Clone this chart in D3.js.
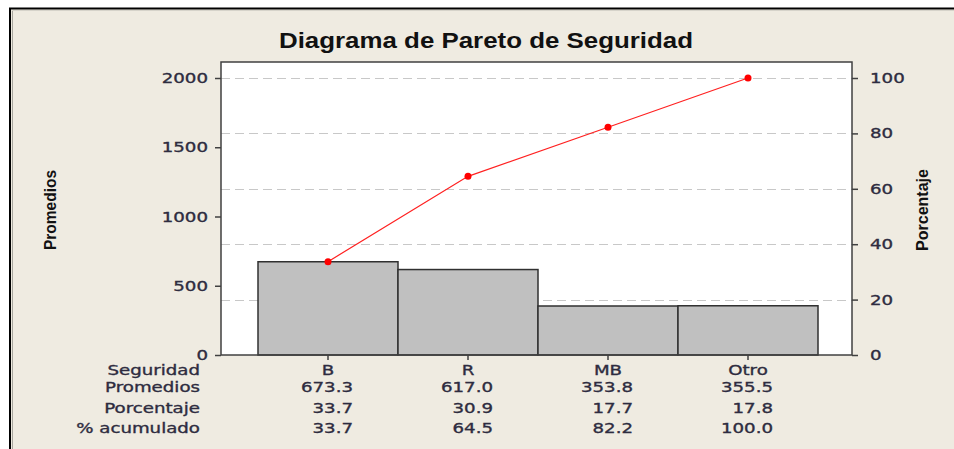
<!DOCTYPE html>
<html>
<head>
<meta charset="utf-8">
<script src="https://cdn.jsdelivr.net/npm/d3@7"></script>
<style>
  html, body { margin: 0; background: #efebe1; overflow: hidden; width: 954px; height: 449px; }
  svg { display: block; }
</style>
</head>
<body>
<div id="chart"></div>
<script>
const categories = ["B", "R", "MB", "Otro"];
const promedios = [673.3, 617.0, 353.8, 355.5];
const porcentaje = [33.7, 30.9, 17.7, 17.8];
const acumulado = [33.7, 64.5, 82.2, 100.0];
const leftTicks = [0, 500, 1000, 1500, 2000];
const rightTicks = [0, 20, 40, 60, 80, 100];
const rowNames = ["Seguridad", "Promedios", "Porcentaje", "% acumulado"];

const W = 954, H = 449;
const plot = {left: 221, right: 852, top: 62, bottom: 355};
const tableFont = "'DejaVu Sans', Verdana, sans-serif";
const textColor = "#2e2c40";
const stretch = 1.3; // the reference text is wider than it is tall

const svg = d3.select("#chart").append("svg")
    .attr("width", W)
    .attr("height", H);

// frame: white margin on top/left, black edge, beige panel
svg.append("rect").attr("width", W).attr("height", H).attr("fill", "#fff");
svg.append("rect").attr("x", 10).attr("y", 8).attr("width", W - 10).attr("height", H - 8)
    .attr("fill", "#efebe1");
svg.append("line").attr("x1", 9).attr("x2", W).attr("y1", 8.5).attr("y2", 8.5)
    .attr("stroke", "#000").attr("stroke-width", 2);
svg.append("line").attr("x1", 10).attr("x2", 10).attr("y1", 8).attr("y2", H)
    .attr("stroke", "#000").attr("stroke-width", 2);
svg.append("line").attr("x1", 12.5).attr("x2", 12.5).attr("y1", 10).attr("y2", H)
    .attr("stroke", "#a8a69e").attr("stroke-width", 1);
svg.append("line").attr("x1", 12).attr("x2", W).attr("y1", 10.5).attr("y2", 10.5)
    .attr("stroke", "#d6d3ca").attr("stroke-width", 1);

const x = d3.scaleBand()
    .domain(categories)
    .range([plot.left + 37, plot.right - 34])
    .padding(0);

const yMax = 2000 * (plot.bottom - plot.top) / 277;
const yLeft = d3.scaleLinear().domain([0, yMax]).range([plot.bottom, plot.top]);
const yRight = d3.scaleLinear().domain([0, yMax / 20]).range([plot.bottom, plot.top]);

// plot background
svg.append("rect")
    .attr("x", plot.left).attr("y", plot.top)
    .attr("width", plot.right - plot.left).attr("height", plot.bottom - plot.top)
    .attr("fill", "#fff");

// gridlines from the right axis
svg.append("g").selectAll("line")
    .data(rightTicks.filter(d => d > 0))
    .enter().append("line")
    .attr("x1", plot.left).attr("x2", plot.right)
    .attr("y1", d => Math.round(yRight(d)) + 0.5).attr("y2", d => Math.round(yRight(d)) + 0.5)
    .attr("stroke", "#c8c8c8").attr("stroke-width", 1)
    .attr("stroke-dasharray", "9,5");

// bars
svg.append("g").selectAll("rect")
    .data(promedios)
    .enter().append("rect")
    .attr("x", (d, i) => x(categories[i]))
    .attr("y", d => yLeft(d))
    .attr("width", x.bandwidth())
    .attr("height", d => plot.bottom - yLeft(d))
    .attr("fill", "#c0c0c0")
    .attr("stroke", "#303030")
    .attr("stroke-width", 1.5);

// cumulative line
const cx = (d, i) => x(categories[i]) + x.bandwidth() / 2;
svg.append("path")
    .datum(acumulado)
    .attr("d", d3.line().x(cx).y(d => yRight(d)))
    .attr("fill", "none")
    .attr("stroke", "#ff2020")
    .attr("stroke-width", 1.2);
svg.append("g").selectAll("circle")
    .data(acumulado)
    .enter().append("circle")
    .attr("cx", cx).attr("cy", d => yRight(d))
    .attr("r", 3.5).attr("fill", "#ff0000");

// plot border
svg.append("rect")
    .attr("x", plot.left).attr("y", plot.top)
    .attr("width", plot.right - plot.left).attr("height", plot.bottom - plot.top)
    .attr("fill", "none").attr("stroke", "#404040").attr("stroke-width", 1.5);

// stretched label helper: anchor is "start" | "middle" | "end"
function label(g, x0, y0, txt, anchor) {
  g.append("text")
    .attr("transform", `translate(${x0},${y0}) scale(${stretch},1)`)
    .attr("text-anchor", anchor)
    .attr("font-family", tableFont)
    .attr("font-size", "14px")
    .attr("fill", textColor)
    .attr("stroke", textColor)
    .attr("stroke-width", 0.35)
    .text(txt);
}

// axes (ticks from d3, labels stretched by hand)
const leftAxis = svg.append("g")
    .attr("transform", `translate(${plot.left},0)`)
    .call(d3.axisLeft(yLeft).tickValues(leftTicks).tickSize(6).tickFormat(""));
const rightAxis = svg.append("g")
    .attr("transform", `translate(${plot.right},0)`)
    .call(d3.axisRight(yRight).tickValues(rightTicks).tickSize(6).tickFormat(""));
const bottomAxis = svg.append("g")
    .attr("transform", `translate(0,${plot.bottom})`)
    .call(d3.axisBottom(x).tickSize(5).tickFormat(""));

[leftAxis, rightAxis, bottomAxis].forEach(a => {
  a.select(".domain").remove();
  a.selectAll(".tick line").attr("stroke", "#404040").attr("stroke-width", 1.5);
});

const tickLabels = svg.append("g");
leftTicks.forEach(t => label(tickLabels, plot.left - 13, yLeft(t) + 5, d3.format("d")(t), "end"));
rightTicks.forEach(t => label(tickLabels, plot.right + 18, yRight(t) + 5, d3.format("d")(t), "start"));

// title and axis titles
svg.append("text")
    .attr("x", 486).attr("y", 48)
    .attr("text-anchor", "middle")
    .attr("font-family", "'Liberation Sans', Arial, sans-serif")
    .attr("font-weight", "bold")
    .attr("font-size", "22px")
    .attr("textLength", 414)
    .attr("lengthAdjust", "spacingAndGlyphs")
    .attr("fill", "#111")
    .text("Diagrama de Pareto de Seguridad");

svg.append("text")
    .attr("transform", "translate(56,210) rotate(-90)")
    .attr("text-anchor", "middle")
    .attr("font-family", "'Liberation Sans', Arial, sans-serif")
    .attr("font-weight", "bold")
    .attr("font-size", "17px")
    .attr("textLength", 80)
    .attr("lengthAdjust", "spacingAndGlyphs")
    .attr("fill", "#111")
    .text("Promedios");

svg.append("text")
    .attr("transform", "translate(928,210) rotate(-90)")
    .attr("text-anchor", "middle")
    .attr("font-family", "'Liberation Sans', Arial, sans-serif")
    .attr("font-weight", "bold")
    .attr("font-size", "17px")
    .attr("textLength", 82)
    .attr("lengthAdjust", "spacingAndGlyphs")
    .attr("fill", "#111")
    .text("Porcentaje");

// table under the chart
const rowY = [375, 392, 413, 433];
const table = svg.append("g");

rowNames.forEach((d, i) => label(table, 200, rowY[i], d, "end"));
categories.forEach(d => label(table, x(d) + x.bandwidth() / 2, rowY[0], d, "middle"));

[promedios, porcentaje, acumulado].forEach((vals, r) => {
  vals.forEach((v, i) => label(table, x(categories[i]) + x.bandwidth() / 2 + 25, rowY[r + 1], v.toFixed(1), "end"));
});
</script>
</body>
</html>
